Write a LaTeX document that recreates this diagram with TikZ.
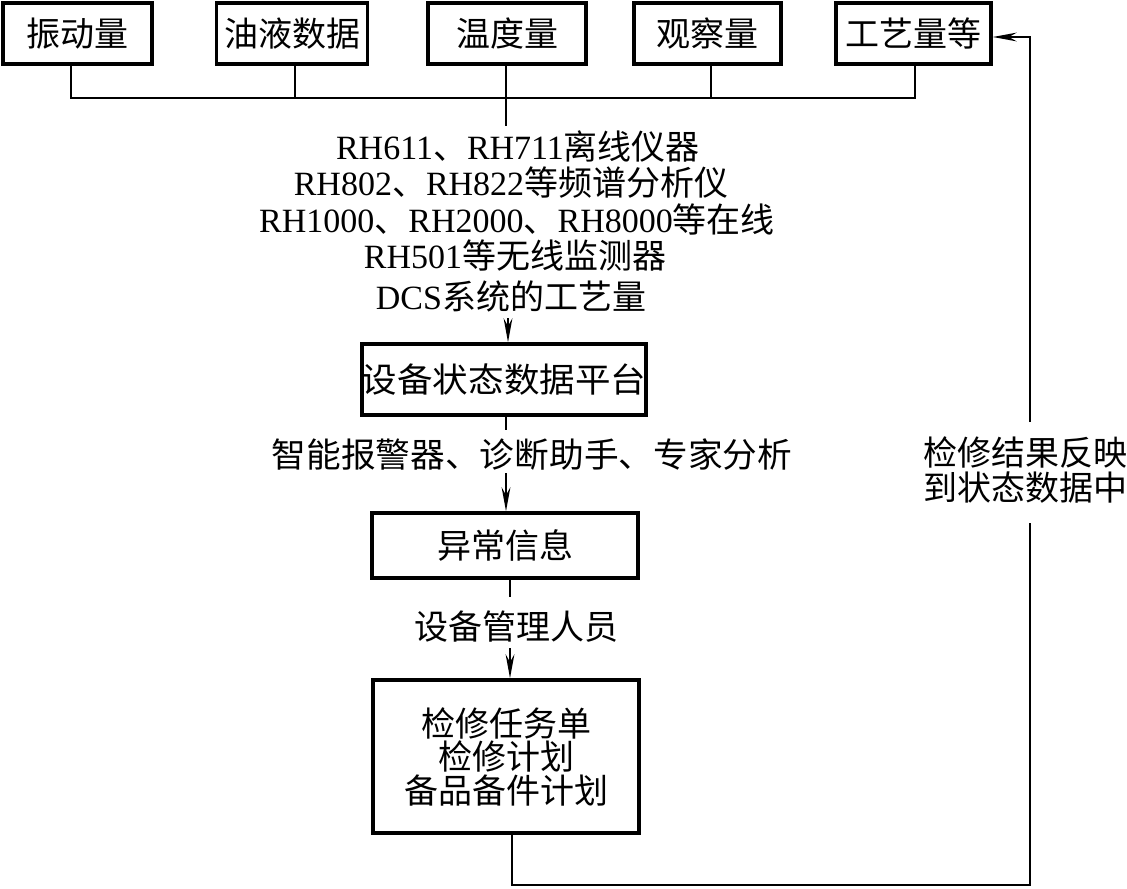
\documentclass[tikz,border=0pt]{standalone}
\usepackage{fontspec}
\setmainfont{Liberation Serif}
\newfontfamily\cjk{Noto Sans CJK SC}
\newfontfamily\cjkwide[FakeStretch=1.045]{Noto Sans CJK SC}
\newfontfamily\cjkmid[FakeStretch=1.02]{Noto Sans CJK SC}
\usetikzlibrary{arrows.meta}
\newcommand\zh[1]{{\cjk #1}}
\newcommand\fs{\fontsize{17pt}{17.5pt}\selectfont}
\newcommand\tightfs{\fontsize{17pt}{16.75pt}\selectfont\lineskiplimit=-6pt\relax}
\begin{document}
\begin{tikzpicture}[x=0.5pt,y=-0.5pt,
  box/.style={draw,line width=1.8pt,inner sep=0pt,align=center,font=\fs},
  txt/.style={inner sep=0pt,align=center,font=\fs},
  conn/.style={line width=0.95pt},
  arr/.style={conn,-{Stealth[length=12pt,width=4.4pt,inset=4pt]}}]
\useasboundingbox (0,0) rectangle (1127,888);
% top boxes
\node[box,minimum width=74.5pt,minimum height=30.5pt] (a) at (77.5,33.5) {\zh{振动量}};
\node[box,minimum width=75.5pt,minimum height=30.5pt] (b) at (292,33.5) {\zh{油液数据}};
\node[box,minimum width=79pt,minimum height=30.5pt] (c) at (507,33.5) {\zh{温度量}};
\node[box,minimum width=73.5pt,minimum height=30.5pt] (d) at (707.5,33.5) {\zh{观察量}};
\node[box,minimum width=77.5pt,minimum height=30.5pt] (e) at (913.5,33.5) {\zh{工艺量等}};
% bus
\draw[conn] (a.south -| 71,0) -- (71,98) -- (915,98) -- (e.south -| 915,0);
\draw[conn] (b.south -| 295,0) -- (295,98);
\draw[conn] (d.south -| 711,0) -- (711,98);
\coordinate (cbot) at (506,126);
\draw[conn] (c.south -| cbot) -- (cbot);
% source text
\node[txt] (s1) at (518,146) {RH611\zh{、}RH711\zh{离线仪器}};
\node[txt] (s2) at (511,183) {RH802\zh{、}RH822\zh{等频谱分析仪}};
\node[txt] (s3) at (517,219) {RH1000\zh{、}RH2000\zh{、}RH8000\zh{等在线}};
\node[txt] (s4) at (515,255) {RH501\zh{等无线监测器}};
\node[txt] (s5) at (511,296) {DCS\zh{系统的工艺量}};
% platform
\node[box,minimum width=141pt,minimum height=35.5pt] (p) at (504,379.5) {{\cjkwide 设备状态数据平台}};
\coordinate (pin) at (508,318);
\draw[arr] (pin) -- (pin |- p.north);
\node[txt] (l1) at (532,455) {{\cjkmid 智能报警器、诊断助手、专家分析}};
\coordinate (p1) at (506,430);
\coordinate (q1) at (506,473);
\draw[conn] (p.south -| p1) -- (p1);
% abnormal info
\node[box,minimum width=133pt,minimum height=32.5pt] (q) at (505,545.5) {\zh{异常信息}};
\draw[arr] (q1) -- (q1 |- q.north);
\coordinate (q2) at (510,597);
\draw[conn] (q.south -| q2) -- (q2);
\node[txt] (l2) at (516,627) {\zh{设备管理人员}};
% task box
\node[box,minimum width=133pt,minimum height=76.5pt,font=\tightfs] (r) at (506,756.5)
  {\zh{检修任务单}\\\zh{检修计划}\\\zh{备品备件计划}};
\coordinate (r1) at (510,648);
\draw[arr] (r1) -- (r1 |- r.north);
% feedback
\node[txt] (fb) at (1025,470) {\zh{检修结果反映}\\\zh{到状态数据中}};
\coordinate (fbb) at (1030,523);
\coordinate (fbt) at (1030,422);
\coordinate (rb) at (512,885);
\draw[conn] (r.south -| rb) -- (rb) -- (rb -| fbb) -- (fbb);
\draw[arr] (fbt) -- (1030,37) -- (e.east |- 0,37);
\end{tikzpicture}
\end{document}
